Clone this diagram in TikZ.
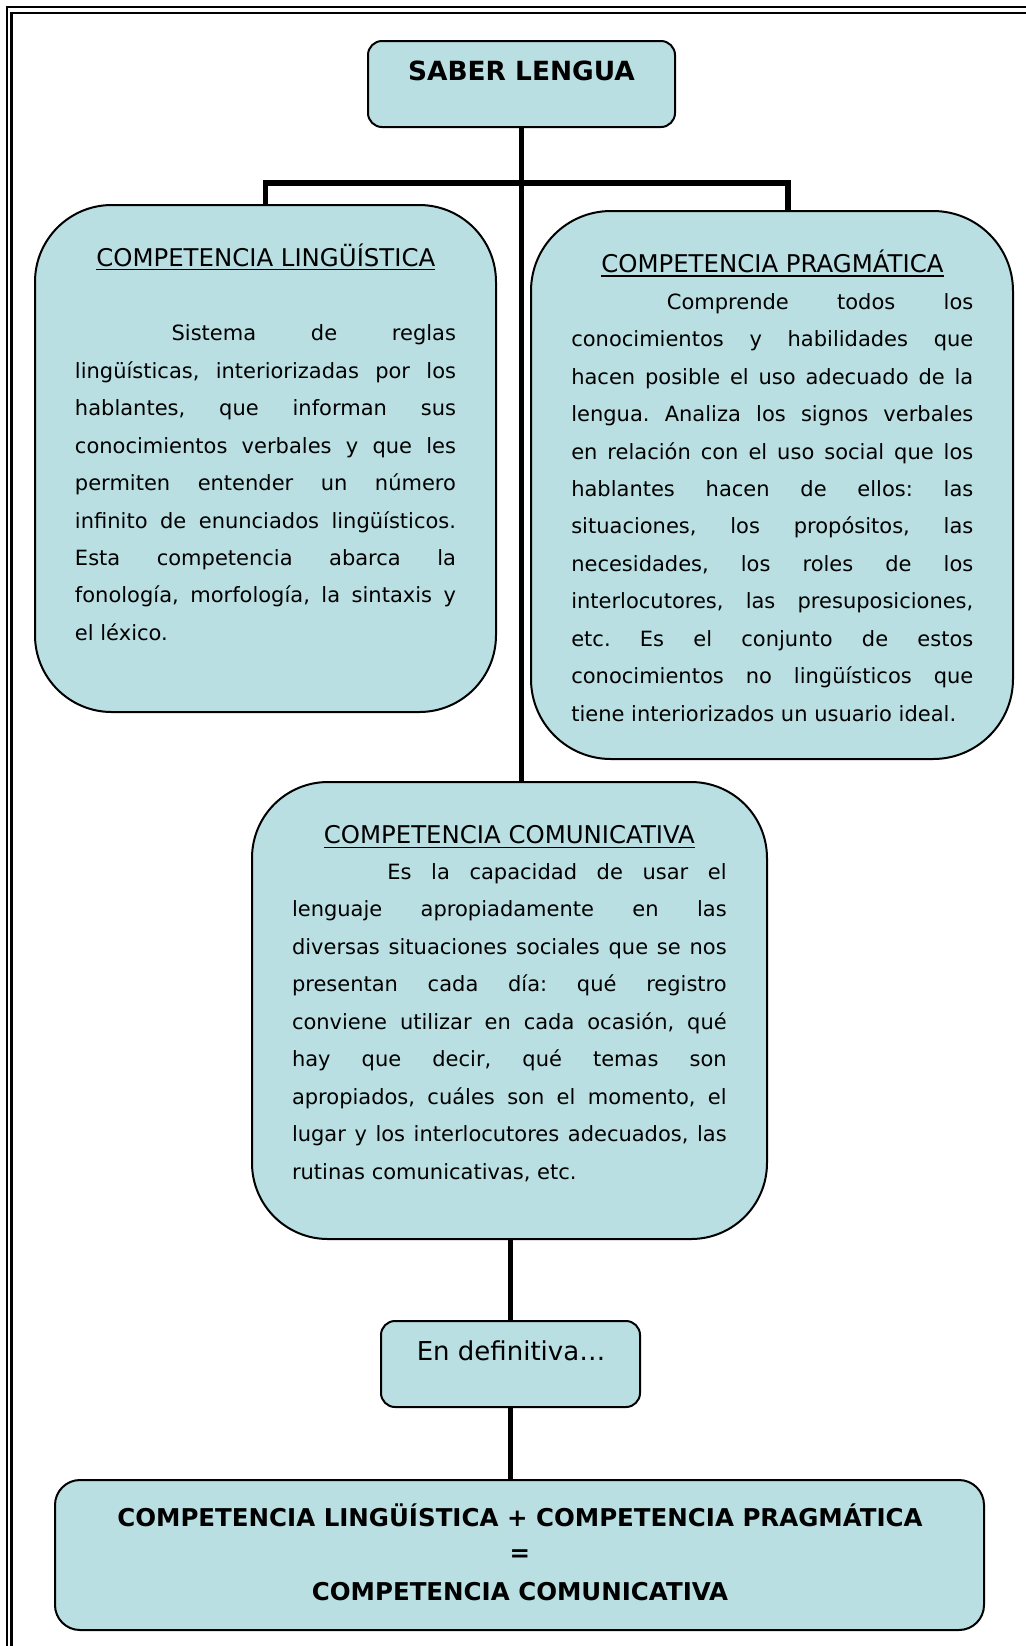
\documentclass[tikz,border=0pt]{standalone}
\usepackage{fontspec}
\setmainfont{DejaVu Sans}
\frenchspacing
\definecolor{boxfill}{RGB}{185,223,227}
\tikzset{
  box/.style={draw=black, line width=1pt, fill=boxfill, inner sep=0pt, outer sep=0pt},
  conn/.style={draw=black, line width=2.6pt},
  txt/.style={inner sep=0pt, outer sep=0pt, text=black},
  uline/.style={draw=black, line width=0.6pt},
}
\newcommand\bodyfont{\fontsize{10.5pt}{18.73pt}\selectfont}
\newcommand\headfont{\fontsize{12.2pt}{14pt}\selectfont}
\newcommand\jline[1]{\makebox[\linewidth][s]{#1}\par}
\begin{document}
\begin{tikzpicture}[x=0.5pt,y=-0.5pt]
\useasboundingbox (0,0) rectangle (1026,1646);
% page border (top and left edges)
\draw[line width=1pt] (6.5,1646) -- (6.5,7.2) -- (1026,7.2);
\draw[line width=1.3pt] (11.3,1646) -- (11.3,12.8) -- (1026,12.8);

% boxes
\node[box, rounded corners=7pt, minimum width=153.5pt, minimum height=43pt] (saber) at (521.5,84) {};
\node[box, rounded corners=38.4pt, minimum width=230.5pt, minimum height=253.5pt] (ling) at (265.5,458.5) {};
\node[box, rounded corners=40pt, minimum width=241pt, minimum height=274pt] (prag) at (772,485) {};
\node[box, rounded corners=38pt, minimum width=257.5pt, minimum height=228.5pt] (comun) at (509.5,1010.5) {};
\node[box, rounded corners=7pt, minimum width=129.5pt, minimum height=43pt] (endef) at (510.5,1364) {};
\node[box, rounded corners=12.5pt, minimum width=464.5pt, minimum height=75pt] (final) at (519.5,1555) {};

% connectors
\coordinate (bar) at (521.5,183);
\draw[conn] (saber.south) -- (saber.south |- comun.north);
\draw[conn] (ling.north) |- (bar) -| ([xshift=8pt]prag.north);
\draw[conn] (endef.north |- comun.south) -- (endef.north);
\draw[conn] (endef.south) -- (endef.south |- final.north);

% texts
\node[txt, anchor=base, font=\bfseries\fontsize{13.2pt}{15pt}\selectfont] (saberT) at (521.5,80) {SABER LENGUA};

\node[txt, anchor=base, font=\headfont] (lingT) at (265.8,266) {COMPETENCIA LINGÜÍSTICA};
\draw[uline] ([yshift=-1.7pt]lingT.base west) -- ([yshift=-1.7pt]lingT.base east);
\node[txt, anchor=base west] (lingB) at (75,340.7) {\parbox[t]{190.5pt}{\bodyfont
\jline{\hspace*{48.3pt}Sistema de reglas}
\jline{lingüísticas, interiorizadas por los}
\jline{hablantes, que informan sus}
\jline{conocimientos verbales y que les}
\jline{permiten entender un número}
\jline{infinito de enunciados lingüísticos.}
\jline{Esta competencia abarca la}
\jline{fonología, morfología, la sintaxis y}
el léxico.}};

\node[txt, anchor=base, font=\headfont] (pragT) at (772.4,272.6) {COMPETENCIA PRAGMÁTICA};
\draw[uline] ([yshift=-1.7pt]pragT.base west) -- ([yshift=-1.7pt]pragT.base east);
\node[txt, anchor=base west] (pragB) at (571.3,309.2) {\parbox[t]{201pt}{\bodyfont
\jline{\hspace*{47.8pt}Comprende todos los}
\jline{conocimientos y habilidades que}
\jline{hacen posible el uso adecuado de la}
\jline{lengua. Analiza los signos verbales}
\jline{en relación con el uso social que los}
\jline{hablantes hacen de ellos: las}
\jline{situaciones, los propósitos, las}
\jline{necesidades, los roles de los}
\jline{interlocutores, las presuposiciones,}
\jline{etc. Es el conjunto de estos}
\jline{conocimientos no lingüísticos que}
tiene interiorizados un usuario ideal.}};

\node[txt, anchor=base, font=\headfont] (comunT) at (509.4,843.9) {COMPETENCIA COMUNICATIVA};
\draw[uline] ([yshift=-1.7pt]comunT.base west) -- ([yshift=-1.7pt]comunT.base east);
\node[txt, anchor=base west] (comunB) at (292,879.4) {\parbox[t]{217.35pt}{\bodyfont
\jline{\hspace*{47.7pt}Es la capacidad de usar el}
\jline{lenguaje apropiadamente en las}
\jline{diversas situaciones sociales que se nos}
\jline{presentan cada día: qué registro}
\jline{conviene utilizar en cada ocasión, qué}
\jline{hay que decir, qué temas son}
\jline{apropiados, cuáles son el momento, el}
\jline{lugar y los interlocutores adecuados, las}
rutinas comunicativas, etc.}};

\node[txt, anchor=base, font=\fontsize{13pt}{15pt}\selectfont] (endefT) at (511,1360) {En definitiva…};

\node[txt, anchor=base, font=\bfseries\fontsize{12.25pt}{14pt}\selectfont] (finalA) at (520,1526.5) {COMPETENCIA LINGÜÍSTICA + COMPETENCIA PRAGMÁTICA};
\node[txt, anchor=base, font=\bfseries\fontsize{12.25pt}{14pt}\selectfont] (finalEq) at (520,1561) {=};
\node[txt, anchor=base, font=\bfseries\fontsize{12.25pt}{14pt}\selectfont] (finalB) at (520,1600) {COMPETENCIA COMUNICATIVA};
\end{tikzpicture}
\end{document}
